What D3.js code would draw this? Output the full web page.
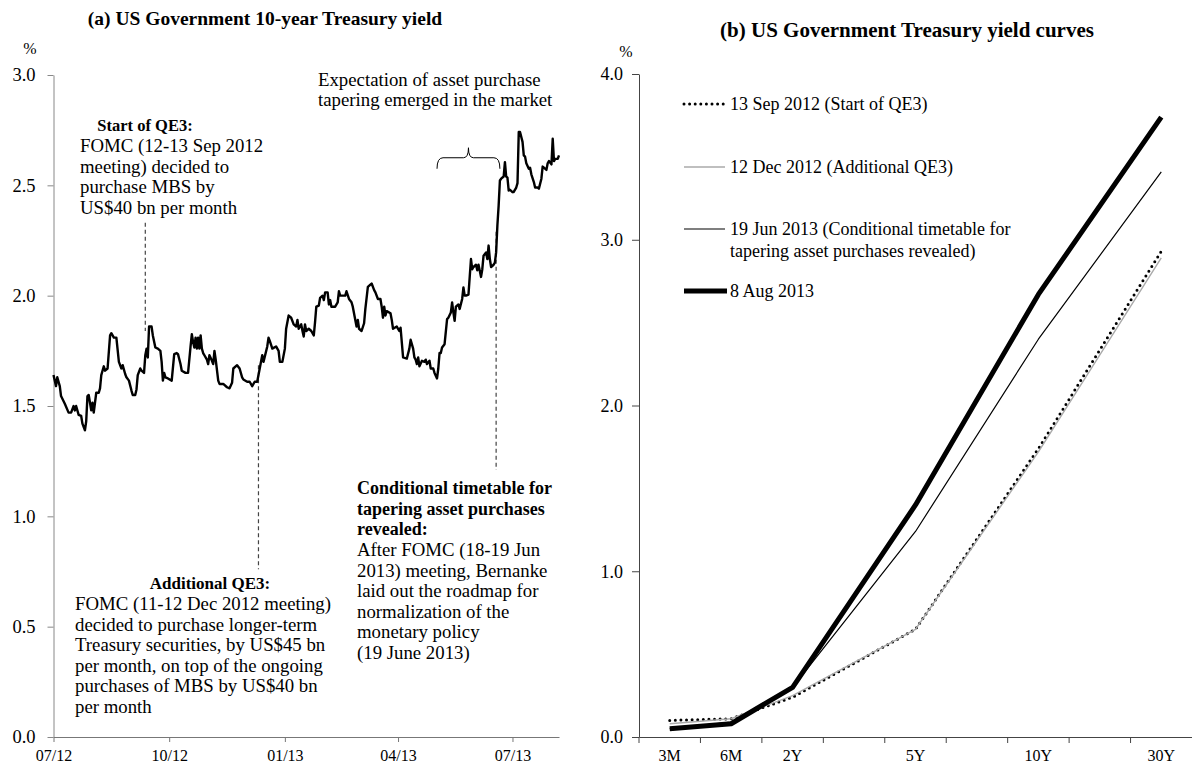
<!DOCTYPE html>
<html>
<head>
<meta charset="utf-8">
<script src="https://cdn.jsdelivr.net/npm/d3@7"></script>
<style>
  body { margin: 0; background: #fff; }
  svg { display: block; }
  text { font-family: "Liberation Serif", "Times New Roman", serif; fill: #000; }
</style>
</head>
<body>
<script>
// (a) 10-year Treasury yield
const tenDates = [
  '2012-07-02', '2012-07-04', '2012-07-05', '2012-07-07', '2012-07-08', '2012-07-11', '2012-07-14', '2012-07-16',
  '2012-07-18', '2012-07-19', '2012-07-20', '2012-07-22', '2012-07-24', '2012-07-25', '2012-07-27', '2012-07-28',
  '2012-07-29', '2012-07-30', '2012-08-01', '2012-08-02', '2012-08-03', '2012-08-05', '2012-08-07', '2012-08-08',
  '2012-08-09', '2012-08-11', '2012-08-12', '2012-08-14', '2012-08-16', '2012-08-17', '2012-08-19', '2012-08-21',
  '2012-08-23', '2012-08-25', '2012-08-26', '2012-08-28', '2012-08-29', '2012-08-31', '2012-09-02', '2012-09-03',
  '2012-09-05', '2012-09-06', '2012-09-07', '2012-09-09', '2012-09-10', '2012-09-12', '2012-09-13', '2012-09-14',
  '2012-09-15', '2012-09-16', '2012-09-18', '2012-09-19', '2012-09-21', '2012-09-23', '2012-09-25', '2012-09-26',
  '2012-09-27', '2012-09-28', '2012-09-29', '2012-10-01', '2012-10-04', '2012-10-06', '2012-10-08', '2012-10-09',
  '2012-10-11', '2012-10-12', '2012-10-15', '2012-10-17', '2012-10-19', '2012-10-20', '2012-10-21', '2012-10-22',
  '2012-10-23', '2012-10-24', '2012-10-25', '2012-10-26', '2012-10-27', '2012-10-28', '2012-10-29', '2012-10-30',
  '2012-11-01', '2012-11-02', '2012-11-03', '2012-11-05', '2012-11-06', '2012-11-07', '2012-11-08', '2012-11-10',
  '2012-11-11', '2012-11-14', '2012-11-17', '2012-11-19', '2012-11-21', '2012-11-22', '2012-11-25', '2012-11-27',
  '2012-11-29', '2012-11-30', '2012-12-03', '2012-12-05', '2012-12-07', '2012-12-09', '2012-12-11', '2012-12-13',
  '2012-12-15', '2012-12-16', '2012-12-19', '2012-12-20', '2012-12-21', '2012-12-23', '2012-12-26', '2012-12-28',
  '2012-12-29', '2012-12-31', '2013-01-02', '2013-01-03', '2013-01-05', '2013-01-07', '2013-01-09', '2013-01-11',
  '2013-01-12', '2013-01-13', '2013-01-15', '2013-01-16', '2013-01-17', '2013-01-18', '2013-01-19', '2013-01-21',
  '2013-01-23', '2013-01-25', '2013-01-26', '2013-01-27', '2013-01-29', '2013-01-30', '2013-02-01', '2013-02-02',
  '2013-02-03', '2013-02-05', '2013-02-06', '2013-02-07', '2013-02-08', '2013-02-11', '2013-02-13', '2013-02-14',
  '2013-02-15', '2013-02-17', '2013-02-19', '2013-02-20', '2013-02-22', '2013-02-24', '2013-02-25', '2013-02-27',
  '2013-02-28', '2013-03-01', '2013-03-02', '2013-03-04', '2013-03-06', '2013-03-07', '2013-03-09', '2013-03-11',
  '2013-03-12', '2013-03-14', '2013-03-15', '2013-03-17', '2013-03-19', '2013-03-20', '2013-03-21', '2013-03-22',
  '2013-03-23', '2013-03-24', '2013-03-27', '2013-03-28', '2013-03-29', '2013-04-01', '2013-04-03', '2013-04-04',
  '2013-04-06', '2013-04-09', '2013-04-11', '2013-04-12', '2013-04-14', '2013-04-15', '2013-04-16', '2013-04-17',
  '2013-04-18', '2013-04-19', '2013-04-21', '2013-04-23', '2013-04-24', '2013-04-25', '2013-04-27', '2013-04-28',
  '2013-04-30', '2013-05-01', '2013-05-03', '2013-05-04', '2013-05-05', '2013-05-06', '2013-05-07', '2013-05-09',
  '2013-05-11', '2013-05-12', '2013-05-14', '2013-05-15', '2013-05-16', '2013-05-17', '2013-05-18', '2013-05-20',
  '2013-05-21', '2013-05-23', '2013-05-24', '2013-05-25', '2013-05-26', '2013-05-28', '2013-05-30', '2013-05-31',
  '2013-06-01', '2013-06-03', '2013-06-04', '2013-06-05', '2013-06-07', '2013-06-08', '2013-06-09', '2013-06-11',
  '2013-06-12', '2013-06-13', '2013-06-14', '2013-06-15', '2013-06-17', '2013-06-18', '2013-06-19', '2013-06-20',
  '2013-06-21', '2013-06-22', '2013-06-23', '2013-06-25', '2013-06-26', '2013-06-27', '2013-06-28', '2013-06-29',
  '2013-06-30', '2013-07-02', '2013-07-03', '2013-07-05', '2013-07-06', '2013-07-07', '2013-07-08', '2013-07-10',
  '2013-07-11', '2013-07-12', '2013-07-13', '2013-07-15', '2013-07-16', '2013-07-17', '2013-07-19', '2013-07-20',
  '2013-07-22', '2013-07-23', '2013-07-25', '2013-07-26', '2013-07-27', '2013-07-29', '2013-07-30', '2013-07-31',
  '2013-08-02', '2013-08-03', '2013-08-04', '2013-08-05', '2013-08-07', '2013-08-08'
]
const tenYields = [
  1.64, 1.59, 1.63, 1.59, 1.545, 1.51, 1.47, 1.47,
  1.50, 1.48, 1.50, 1.46, 1.455, 1.42, 1.39, 1.43,
  1.545, 1.55, 1.48, 1.515, 1.47, 1.56, 1.56, 1.58,
  1.64, 1.68, 1.66, 1.67, 1.82, 1.83, 1.81, 1.81,
  1.70, 1.67, 1.685, 1.645, 1.63, 1.615, 1.57, 1.55,
  1.55, 1.575, 1.64, 1.67, 1.66, 1.65, 1.73, 1.76,
  1.72, 1.86, 1.86, 1.82, 1.765, 1.76, 1.75, 1.70,
  1.615, 1.65, 1.63, 1.625, 1.615, 1.735, 1.74, 1.735,
  1.69, 1.66, 1.65, 1.65, 1.77, 1.825, 1.79, 1.765,
  1.81, 1.76, 1.81, 1.76, 1.82, 1.76, 1.74, 1.73,
  1.71, 1.69, 1.73, 1.705, 1.69, 1.75, 1.71, 1.615,
  1.60, 1.60, 1.585, 1.58, 1.605, 1.67, 1.685, 1.67,
  1.63, 1.62, 1.61, 1.61, 1.59, 1.61, 1.61, 1.67,
  1.73, 1.70, 1.77, 1.81, 1.795, 1.76, 1.77, 1.75,
  1.70, 1.70, 1.76, 1.85, 1.91, 1.90, 1.87, 1.86,
  1.89, 1.85, 1.87, 1.84, 1.815, 1.87, 1.84, 1.85,
  1.84, 1.82, 1.88, 1.95, 1.955, 1.99, 2.00, 1.98,
  2.015, 2.015, 1.96, 1.98, 1.95, 1.95, 1.97, 2.02,
  2.00, 2.00, 2.00, 2.02, 1.985, 1.97, 1.95, 1.89,
  1.86, 1.89, 1.85, 1.84, 1.875, 1.94, 2.04, 2.05,
  2.055, 2.025, 2.015, 1.985, 1.985, 1.95, 1.90, 1.95,
  1.91, 1.93, 1.92, 1.89, 1.85, 1.86, 1.84, 1.855,
  1.72, 1.715, 1.76, 1.80, 1.76, 1.72, 1.71, 1.69,
  1.72, 1.68, 1.705, 1.70, 1.71, 1.69, 1.705, 1.67,
  1.67, 1.65, 1.625, 1.67, 1.74, 1.74, 1.765, 1.78,
  1.894, 1.90, 1.924, 1.969, 1.924, 1.886, 1.95, 1.96,
  1.94, 1.985, 2.037, 2.00, 2.00, 2.005, 2.166, 2.12,
  2.13, 2.14, 2.115, 2.14, 2.085, 2.12, 2.181, 2.196,
  2.166, 2.227, 2.166, 2.13, 2.14, 2.15, 2.196, 2.318,
  2.408, 2.522, 2.53, 2.54, 2.605, 2.54, 2.535, 2.476,
  2.48, 2.469, 2.47, 2.49, 2.51, 2.742, 2.742, 2.697,
  2.636, 2.63, 2.60, 2.575, 2.58, 2.55, 2.515, 2.49,
  2.49, 2.485, 2.53, 2.585, 2.58, 2.57, 2.60, 2.61,
  2.595, 2.711, 2.61, 2.62, 2.62, 2.636
]
const dateTicks = ['2012-07-02', '2012-10-02', '2013-01-02', '2013-04-02', '2013-07-02']
const yieldTicks = [0, 0.5, 1.0, 1.5, 2.0, 2.5, 3.0]
const eventDates = ['2012-09-13', '2012-12-12', '2013-06-19']
const taperSpan = ['2013-05-03', '2013-06-22']

// (b) yield curves
const tenorSlots = ['3M', '6M', '2Y', '3Y', '5Y', '7Y', '10Y', '20Y', '30Y']
const tenors = ['3M', '6M', '2Y', '5Y', '10Y', '30Y']
const curveSep12 = [0.10, 0.11, 0.24, 0.65, 1.74, 2.93]
const curveDec12 = [0.08, 0.11, 0.25, 0.65, 1.72, 2.89]
const curveJun13 = [0.05, 0.09, 0.30, 1.24, 2.40, 3.41]
const curveAug13 = [0.05, 0.08, 0.30, 1.40, 2.67, 3.74]
const curveTicks = [0, 1, 2, 3, 4]
const legendLabels = [
  ['13 Sep 2012 (Start of QE3)'],
  ['12 Dec 2012 (Additional QE3)'],
  ['19 Jun 2013 (Conditional timetable for', 'tapering asset purchases revealed)'],
  ['8 Aug 2013']
]

const noteQE3 = ['FOMC (12-13 Sep 2012', 'meeting) decided to', 'purchase MBS by', 'US$40 bn per month']
const noteAddQE3 = ['FOMC (11-12 Dec 2012 meeting)', 'decided to purchase longer-term', 'Treasury securities, by US$45 bn',
  'per month, on top of the ongoing', 'purchases of MBS by US$40 bn', 'per month']
const noteTaperHead = ['Conditional timetable for', 'tapering asset purchases', 'revealed:']
const noteTaper = ['After FOMC (18-19 Jun', '2013) meeting, Bernanke', 'laid out the roadmap for',
  'normalization of the', 'monetary policy', '(19 June 2013)']
const noteExpect = ['Expectation of asset purchase', 'tapering emerged in the market']

const W = 1192
const H = 765
const parse = d3.utcParse('%Y-%m-%d')
const fmt1 = d3.format('.1f')

const svg = d3.select('body').append('svg').attr('width', W).attr('height', H)

const textBlock = (g, lines, x, y0, opts = {}) => {
  const t = g.append('text')
    .attr('font-size', opts.size || 18.8)
    .attr('font-weight', opts.bold ? 'bold' : null)
    .attr('text-anchor', opts.anchor || 'start')
  lines.forEach((s, i) => {
    t.append('tspan').attr('x', x).attr('y', y0 + i * (opts.lh || 20.5)).attr('dy', '0.35em').text(s)
  })
  return t
}

// ---------- (a) ----------
const a = svg.append('g')
const x = d3.scaleUtc().domain([parse('2012-07-02'), parse('2013-08-08')]).range([53.5, 559])
const y = d3.scaleLinear().domain([0, 3]).range([737, 75])

a.append('text').attr('x', 265).attr('y', 18).attr('dy', '0.35em').attr('text-anchor', 'middle')
  .attr('font-size', 19.5).attr('font-weight', 'bold').text('(a) US Government 10-year Treasury yield')
a.append('text').attr('x', 30).attr('y', 48).attr('dy', '0.35em').attr('text-anchor', 'middle')
  .attr('font-size', 16).text('%')

a.append('g').attr('transform', `translate(${x.range()[0]},0)`)
  .call(d3.axisLeft(y).tickValues(yieldTicks).tickFormat(fmt1).tickSize(6).tickSizeOuter(0).tickPadding(12))
  .call((g) => g.selectAll('path,line').attr('stroke', '#888'))
  .call((g) => g.selectAll('text').attr('font-size', 18.5).attr('font-family', null))

a.append('g').attr('transform', `translate(0,${y(0)})`)
  .call(d3.axisBottom(x).tickValues(dateTicks.map(parse)).tickFormat(d3.utcFormat('%m/%y')).tickSize(5).tickSizeOuter(0).tickPadding(8))
  .call((g) => g.selectAll('path,line').attr('stroke', '#777'))
  .call((g) => g.selectAll('text').attr('font-size', 16).attr('font-family', null))

// event markers
const eventSpans = [[2.33, 1.84], [1.685, 0.76], [2.29, 1.21]]
a.append('g').attr('stroke', '#444').attr('stroke-width', 1.2).attr('stroke-dasharray', '4,3')
  .selectAll('line').data(eventDates).join('line')
  .attr('x1', (d) => x(parse(d))).attr('x2', (d) => x(parse(d)))
  .attr('y1', (d, i) => y(eventSpans[i][0])).attr('y2', (d, i) => y(eventSpans[i][1]))

a.append('path')
  .datum(tenDates.map((d, i) => [parse(d), tenYields[i]]))
  .attr('fill', 'none').attr('stroke', '#000').attr('stroke-width', 2.4).attr('stroke-linejoin', 'round')
  .attr('d', d3.line().x((d) => x(d[0])).y((d) => y(d[1])))

// brace over the taper-talk period
{
  const x0 = x(parse(taperSpan[0]))
  const x1 = x(parse(taperSpan[1]))
  const xm = (x0 + x1) / 2
  const yb = y(2.625)
  const p = d3.path()
  p.moveTo(x0, yb + 11)
  p.quadraticCurveTo(x0, yb, x0 + 6, yb)
  p.lineTo(xm - 5, yb)
  p.quadraticCurveTo(xm, yb, xm, yb - 10)
  p.quadraticCurveTo(xm, yb, xm + 5, yb)
  p.lineTo(x1 - 6, yb)
  p.quadraticCurveTo(x1, yb, x1, yb + 11)
  a.append('path').attr('d', p.toString()).attr('fill', 'none').attr('stroke', '#000').attr('stroke-width', 1)
}

textBlock(a, noteExpect, 318, 79)
textBlock(a, ['Start of QE3:'], 145, 125, { bold: true, anchor: 'middle', size: 16.5 })
textBlock(a, noteQE3, 80, 145.5)
textBlock(a, ['Additional QE3:'], 210, 583, { bold: true, anchor: 'middle', size: 17 })
textBlock(a, noteAddQE3, 75, 603.5)
textBlock(a, noteTaperHead, 357, 488, { bold: true, size: 18 })
textBlock(a, noteTaper, 357, 549.5)

// ---------- (b) ----------
const b = svg.append('g')
const xb = d3.scaleBand().domain(tenorSlots).range([639, 1192])
const yb = d3.scaleLinear().domain([0, 4]).range([737, 74])
const cx = (t) => xb(t) + xb.bandwidth() / 2

b.append('text').attr('x', 907).attr('y', 30).attr('dy', '0.35em').attr('text-anchor', 'middle')
  .attr('font-size', 21).attr('font-weight', 'bold').text('(b) US Government Treasury yield curves')
b.append('text').attr('x', 626).attr('y', 51).attr('dy', '0.35em').attr('text-anchor', 'middle')
  .attr('font-size', 16).text('%')

b.append('g').attr('transform', `translate(${xb.range()[0]},0)`)
  .call(d3.axisLeft(yb).tickValues(curveTicks).tickFormat(fmt1).tickSize(7).tickSizeOuter(0).tickPadding(9))
  .call((g) => g.selectAll('path,line').attr('stroke', '#444'))
  .call((g) => g.selectAll('text').attr('font-size', 18).attr('font-family', null))

const xAxisB = b.append('g').attr('transform', `translate(0,${yb(0)})`)
  .call(d3.axisBottom(xb).tickSize(0).tickSizeOuter(0).tickPadding(13).tickFormat((d) => (tenors.includes(d) ? d : '')))
  .call((g) => g.select('.domain').attr('stroke', '#444'))
  .call((g) => g.selectAll('text').attr('font-size', 16).attr('font-family', null))
xAxisB.selectAll('line.slot').data(tenorSlots).join('line').attr('class', 'slot')
  .attr('x1', (d) => xb(d)).attr('x2', (d) => xb(d)).attr('y1', 0).attr('y2', 6).attr('stroke', '#444')

const curves = [
  { values: curveSep12, stroke: '#000', width: 3, dash: '0,5.6', cap: 'round' },
  { values: curveDec12, stroke: '#aaa', width: 1.4 },
  { values: curveJun13, stroke: '#000', width: 1.2 },
  { values: curveAug13, stroke: '#000', width: 5 }
]
const curveLine = d3.line().x((d, i) => cx(tenors[i])).y((d) => yb(d))

b.append('g').attr('fill', 'none')
  .selectAll('path').data(curves).join('path')
  .attr('stroke', (d) => d.stroke).attr('stroke-width', (d) => d.width)
  .attr('stroke-dasharray', (d) => d.dash || null).attr('stroke-linecap', (d) => d.cap || 'butt')
  .attr('stroke-linejoin', 'round')
  .attr('d', (d) => curveLine(d.values))

// legend
const legendY = [104, 167, 229, 291]
const lg = b.append('g').selectAll('g').data(curves).join('g')
  .attr('transform', (d, i) => `translate(684,${legendY[i]})`)
lg.append('line').attr('x1', 0).attr('x2', (d, i) => (i === 3 ? 43 : 41)).attr('y1', 0).attr('y2', 0)
  .attr('stroke', (d) => d.stroke).attr('stroke-width', (d) => d.width)
  .attr('stroke-dasharray', (d) => d.dash || null).attr('stroke-linecap', (d) => d.cap || 'butt')
lg.each(function (d, i) {
  textBlock(d3.select(this), legendLabels[i], 46, 0, { size: 18, lh: 22 })
})
</script>
</body>
</html>
